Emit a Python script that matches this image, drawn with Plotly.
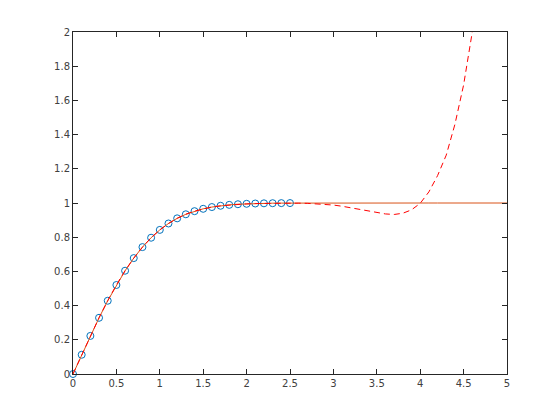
import plotly.graph_objects as go

# sample points (circles)
x_pts = [0.0, 0.1, 0.2, 0.3, 0.4, 0.5, 0.6, 0.7, 0.8, 0.9, 1.0, 1.1, 1.2, 1.3,
         1.4, 1.5, 1.6, 1.7, 1.8, 1.9, 2.0, 2.1, 2.2, 2.3, 2.4, 2.5]
y_pts = [0.0, 0.1125, 0.2227, 0.3286, 0.4284, 0.5205, 0.6039, 0.6778, 0.7421,
         0.7969, 0.8427, 0.8802, 0.9103, 0.9340, 0.9523, 0.9661, 0.9763, 0.9838,
         0.9891, 0.9928, 0.9953, 0.9970, 0.9981, 0.9989, 0.9993, 0.9996]

# full curve (solid orange line)
x_full = [0.0, 0.1, 0.2, 0.3, 0.4, 0.5, 0.6, 0.7, 0.8, 0.9, 1.0, 1.1, 1.2, 1.3,
          1.4, 1.5, 1.6, 1.7, 1.8, 1.9, 2.0, 2.1, 2.2, 2.3, 2.4, 2.5, 2.6, 2.7,
          2.8, 2.9, 3.0, 3.1, 3.2, 3.3, 3.4, 3.5, 3.6, 3.7, 3.8, 3.9, 4.0, 4.1,
          4.2, 4.3, 4.4, 4.5, 4.6, 4.7, 4.8, 4.9, 5.0]
y_full = [0.0, 0.1125, 0.2227, 0.3286, 0.4284, 0.5205, 0.6039, 0.6778, 0.7421,
          0.7969, 0.8427, 0.8802, 0.9103, 0.9340, 0.9523, 0.9661, 0.9763, 0.9838,
          0.9891, 0.9928, 0.9953, 0.9970, 0.9981, 0.9989, 0.9993, 0.9996, 0.9998,
          0.9999, 0.9999, 1.0, 1.0, 1.0, 1.0, 1.0, 1.0, 1.0, 1.0, 1.0, 1.0, 1.0,
          1.0, 1.0, 1.0, 1.0, 1.0, 1.0, 1.0, 1.0, 1.0, 1.0, 1.0]

# polynomial fit (red dashed)
y_fit = [0.0004, 0.1119, 0.2223, 0.3287, 0.4288, 0.5209, 0.6038, 0.6775, 0.7417,
         0.7966, 0.8426, 0.8803, 0.9105, 0.9343, 0.9527, 0.9664, 0.9764, 0.9836,
         0.9887, 0.9923, 0.9950, 0.9969, 0.9982, 0.9990, 0.9994, 0.9995, 0.999,
         0.998, 0.996, 0.993, 0.988, 0.981, 0.972, 0.962, 0.952, 0.943, 0.936,
         0.933, 0.940, 0.960, 0.998, 1.065, 1.16, 1.28, 1.46, 1.69, 2.0, 2.4,
         2.9, 3.5, 4.3]

x_ticks = [0, 0.5, 1, 1.5, 2, 2.5, 3, 3.5, 4, 4.5, 5]
y_ticks = [0, 0.2, 0.4, 0.6, 0.8, 1, 1.2, 1.4, 1.6, 1.8, 2]

fig = go.Figure()
fig.add_trace(go.Scatter(x=x_pts, y=y_pts, mode="markers",
                         marker=dict(symbol="circle-open", size=7, color="#0072BD",
                                     line=dict(width=1, color="#0072BD")),
                         cliponaxis=False))
fig.add_trace(go.Scatter(x=x_full, y=y_full, mode="lines",
                         line=dict(color="#D95319", width=1)))
fig.add_trace(go.Scatter(x=x_full, y=y_fit, mode="lines",
                         line=dict(color="#FF0000", width=1, dash="6px,4px")))

axis_common = dict(showgrid=False, zeroline=False, showline=True, mirror="ticks",
                   linecolor="#262626", linewidth=1, ticks="inside", ticklen=5,
                   tickcolor="#262626", tickwidth=1,
                   tickfont=dict(family="DejaVu Sans", size=10, color="#404040"))

fig.update_layout(
    width=560, height=420,
    margin=dict(l=65, r=61, t=24, b=54),
    paper_bgcolor="white", plot_bgcolor="white",
    showlegend=False,
    xaxis=dict(range=[0, 5], tickvals=x_ticks, ticktext=[f"{v:g}" for v in x_ticks],
               **axis_common),
    yaxis=dict(range=[0, 2], tickvals=y_ticks, ticktext=[f"{v:g}" for v in y_ticks],
               **axis_common),
)

fig.write_html("out.html")
